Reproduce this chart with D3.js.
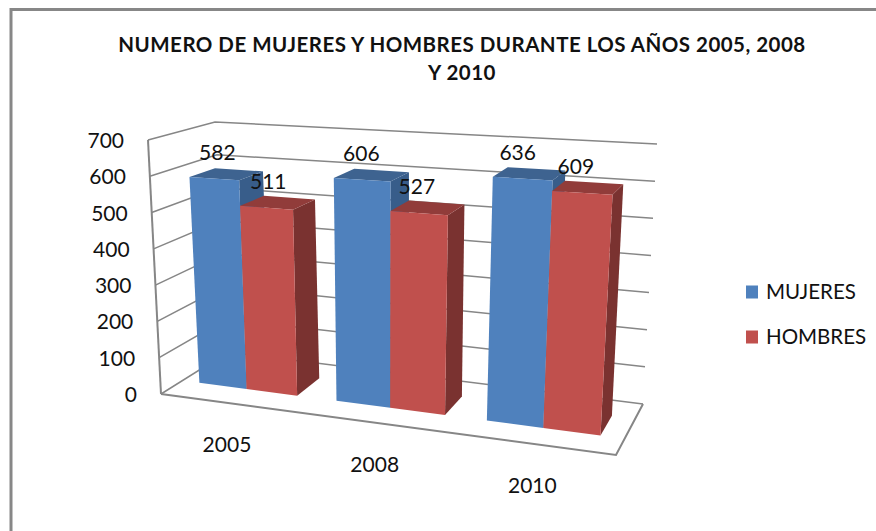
<!DOCTYPE html>
<html><head><meta charset="utf-8">
<script src="https://cdnjs.cloudflare.com/ajax/libs/d3/7.8.5/d3.min.js"></script>
<style>html,body{margin:0;padding:0;background:#fff}svg{display:block}text{font-family:Lato,sans-serif;fill:#111}</style>
</head><body><svg id="c" width="876" height="531"></svg>
<script>
const years = ["2005","2008","2010"];
const seriesNames = ["MUJERES","HOMBRES"];
const mujeres = [582,606,636];
const hombres = [511,527,609];
const ticks = [0,100,200,300,400,500,600,700];
const titleLines = ["NUMERO DE MUJERES Y HOMBRES DURANTE LOS AÑOS 2005, 2008","Y 2010"];

const palette = {
  MUJERES:{front:"#4F81BD",top:"#3E6390",side:"#385D8A"},
  HOMBRES:{front:"#C0504D",top:"#913C3A",side:"#7A3230"}
};
const gray="#868686";
const svg=d3.select("#c");

// 3D box corners on screen
const box={
 f0:[[161,394],[616,455]], b0:[[228,352],[643,404]],
 f1:[[148,140],[632,168]], b1:[[215,122],[657,144]]
};
const lerp=(a,b,t)=>[a[0]+(b[0]-a[0])*t,a[1]+(b[1]-a[1])*t];
function proj(u,v,w){
  const low=lerp(lerp(box.f0[0],box.f0[1],u),lerp(box.b0[0],box.b0[1],u),v);
  const high=lerp(lerp(box.f1[0],box.f1[1],u),lerp(box.b1[0],box.b1[1],u),v);
  return lerp(low,high,w);
}
const W=d3.scaleLinear().domain([0,700]).range([0,1]);
const warp=d3.scalePow().exponent(1.09).domain([0,1]).range([0,1]);
const X=d3.scaleBand().domain(years).range([0,1]).paddingInner(0.273).paddingOuter(0.152);
const S=d3.scaleBand().domain(seriesNames).range([0,X.bandwidth()]);
const depth=d3.scaleLinear().domain([0,1]).range([0.32,0.71]);
const labelShift=d3.scaleLinear().domain([217,600]).range([3,-7]);
const line=d3.line();
const path=pts=>line(pts)+"Z";

// border
svg.append("path").attr("d",line([[11,531],[11,9.5],[876,9.5]])).attr("fill","none").attr("stroke","#878787").attr("stroke-width",3);

// title
svg.append("text").attr("text-anchor","middle").attr("font-weight",700).attr("font-size",20.5).attr("letter-spacing",0.48)
 .selectAll("tspan").data(titleLines).join("tspan").attr("x",462).attr("y",(d,i)=>52+i*28).text(d=>d);

// walls and gridlines
const g=svg.append("g").attr("fill","none").attr("stroke",gray).attr("stroke-width",1.5);
ticks.forEach(t=>{
  const w=W(t);
  g.append("path").attr("d",line([proj(0,0,w),proj(0,1,w),proj(1,1,w)]));
});
g.append("path").attr("d",line([proj(0,0,0),proj(0,0,1)])).attr("stroke-width",2);
g.append("path").attr("d",line([proj(0,0,0),proj(1,0,0),proj(1,1,0)])).attr("stroke-width",2);

// tick labels
svg.append("g").attr("text-anchor","end").attr("font-size",21).selectAll("text").data(ticks).join("text")
 .attr("x",d=>proj(0,0,W(d))[0]-24).attr("y",d=>proj(0,0,W(d))[1]+8).text(d=>d);

// bars
const labels=[];
years.forEach((yr,i)=>{
  [[seriesNames[0],mujeres[i]],[seriesNames[1],hombres[i]]].forEach(([name,val])=>{
    const u0=warp(X(yr)+S(name)), u1=warp(X(yr)+S(name)+S.bandwidth());
    const v0=depth(0), v1=depth(1), w=W(val);
    const c=palette[name];
    svg.append("path").attr("fill",c.side).attr("d",path([proj(u1,v0,0),proj(u1,v1,0),proj(u1,v1,w),proj(u1,v0,w)]));
    svg.append("path").attr("fill",c.top).attr("d",path([proj(u0,v0,w),proj(u1,v0,w),proj(u1,v1,w),proj(u0,v1,w)]));
    svg.append("path").attr("fill",c.front).attr("d",path([proj(u0,v0,0),proj(u1,v0,0),proj(u1,v0,w),proj(u0,v0,w)]));
    const p=proj((u0+u1)/2,v0,w);
    labels.push({x:p[0]+labelShift(p[0]),y:p[1]-19,t:val});
  });
});
svg.append("g").attr("text-anchor","middle").attr("font-size",21).selectAll("text").data(labels).join("text")
 .attr("x",d=>d.x).attr("y",d=>d.y).text(d=>d.t);

// category labels
svg.append("g").attr("text-anchor","middle").attr("font-size",21).selectAll("text").data(years).join("text")
 .attr("x",d=>proj(warp(X(d)+X.bandwidth()/2),0,0)[0])
 .attr("y",d=>proj(warp(X(d)+X.bandwidth()/2),0,0)[1]+49).text(d=>d);

// legend
const L=d3.scalePoint().domain(seriesNames).range([292,337]);
const lg=svg.append("g").selectAll("g").data(seriesNames).join("g");
lg.append("rect").attr("x",746).attr("y",d=>L(d)-6.5).attr("width",12).attr("height",13).attr("fill",d=>palette[d].front);
lg.append("text").attr("x",766).attr("y",d=>L(d)+6.5).attr("font-size",20.5).text(d=>d);
</script></body></html>
